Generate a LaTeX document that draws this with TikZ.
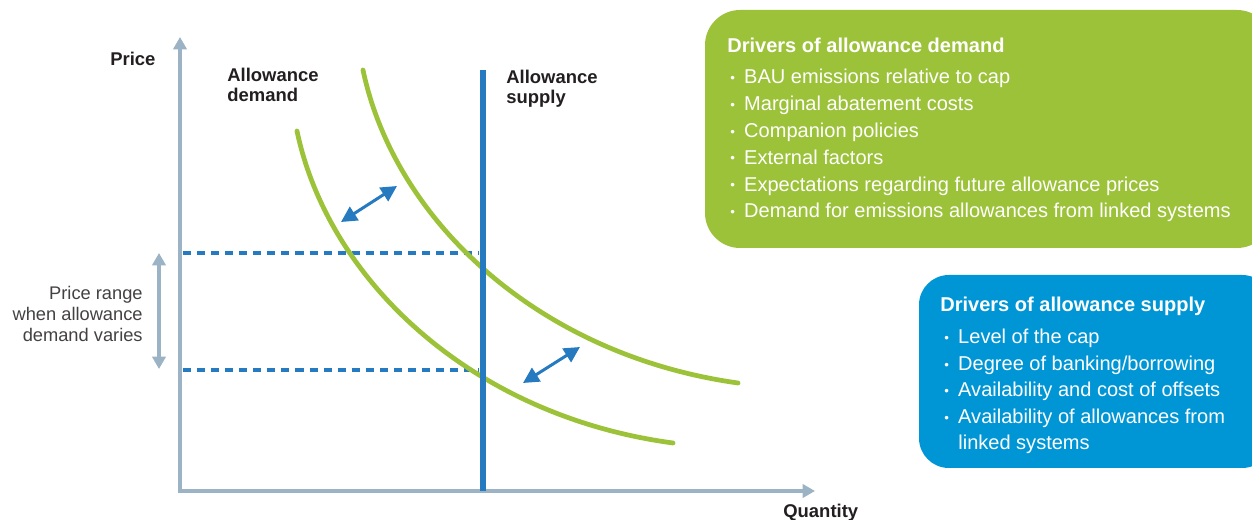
\documentclass[tikz,border=0pt]{standalone}
\usepackage{fontspec}
\setmainfont{Liberation Sans}
\usetikzlibrary{arrows.meta}
\definecolor{lgreen}{RGB}{156,194,58}
\definecolor{sblue}{RGB}{37,122,192}
\definecolor{bblue}{RGB}{0,150,214}
\definecolor{axgrey}{RGB}{155,179,197}
\definecolor{ink}{RGB}{35,31,32}
\newcommand{\bdot}{\makebox[7.9pt][l]{\raisebox{0.8pt}{\fontsize{7.5}{7.5}\selectfont •}}}
\begin{document}
\begin{tikzpicture}[x=0.02cm,y=-0.02cm,line join=round,>={Triangle[length=7pt,width=7.5pt]},
axis/.style={draw=axgrey,line width=1.8pt},
demand/.style={draw=lgreen,line width=2.7pt,line cap=round},
shiftarrow/.style={draw=sblue,line width=1.7pt,{Triangle[length=9pt,width=9pt]}-{Triangle[length=9pt,width=9pt]}},
guide/.style={draw=sblue,line width=2.1pt,dash pattern=on 4.6pt off 3.4pt},
lbl/.style={font=\fontsize{10.5}{11.4}\selectfont\bfseries,text=ink,inner sep=0pt,align=left,anchor=base west},
head/.style={font=\fontsize{11.4}{13}\selectfont\bfseries,text=white,inner sep=0pt,anchor=base west},
item/.style={font=\fontsize{11.4}{13}\selectfont,text=white,inner sep=0pt,anchor=base west}]
\clip (0,0) rectangle (1252,520);
\fill[lgreen,rounded corners=20pt] (705,10) rectangle (1272,248);
\fill[bblue,rounded corners=17pt] (919,275) rectangle (1272,468);
\coordinate (O) at (180,491);
\coordinate (Ytop) at (180,37);
\coordinate (Xend) at (815,491);
\draw[axis,<->,line join=miter] (Ytop)--(O)--(Xend);
\node[lbl] (price) at (110,66) {Price};
\node[lbl] (quantity) at (783,518) {Quantity};
\foreach \y/\n in {253/hi,370/lo}
{
\coordinate (\n L) at (183,\y);
\coordinate (\n R) at (479,\y);
\draw[guide] (\n L)--(\n R);
}
\coordinate (D0) at (297,131);
\coordinate (D1) at (673,443);
\coordinate (E0) at (363,70);
\coordinate (E1) at (738,383);
\draw[demand] (D0) .. controls (328.5,281) and (472.5,416) .. (D1);
\draw[demand] (E0) .. controls (394.5,220) and (538,355) .. (E1);
\coordinate (S1) at (483,70);
\coordinate (S0) at (483,491);
\draw[draw=sblue,line width=3.7pt] (S1)--(S0);
\node[lbl] (dem) at (227,101.5) {Allowance\\demand};
\node[lbl] (sup) at (506,103.5) {Allowance\\supply};
\coordinate (a1) at (341,222);
\coordinate (a2) at (397,186);
\coordinate (b1) at (523,383);
\coordinate (b2) at (580,347);
\draw[shiftarrow] (a1)--(a2);
\draw[shiftarrow] (b1)--(b2);
\coordinate (rT) at (159,253);
\coordinate (rB) at (159,369);
\draw[axis,<->] (rT)--(rB);
\node[anchor=base east,align=right,font=\fontsize{10.4}{12}\selectfont,text=ink!85,inner sep=0pt] (rng) at (143,342) {Price range\\when allowance\\demand varies};
\node[head] (dh) at (727,53) {Drivers of allowance demand};
\foreach \t [count=\i] in {BAU emissions relative to cap,Marginal abatement costs,Companion policies,External factors,Expectations regarding future allowance prices,Demand for emissions allowances from linked systems}
{
\node[item] (d\i) at (730,{84+26.8*(\i-1)}) {\bdot\t};
}
\node[head] (sh) at (940,312) {Drivers of allowance supply};
\foreach \t [count=\i] in {Level of the cap,Degree of banking/borrowing,Availability and cost of offsets,Availability of allowances from}
{
\node[item] (s\i) at (944,{344+26.5*(\i-1)}) {\bdot\t};
}
\node[item] (s5) at (958,450) {linked systems};
\end{tikzpicture}
\end{document}
